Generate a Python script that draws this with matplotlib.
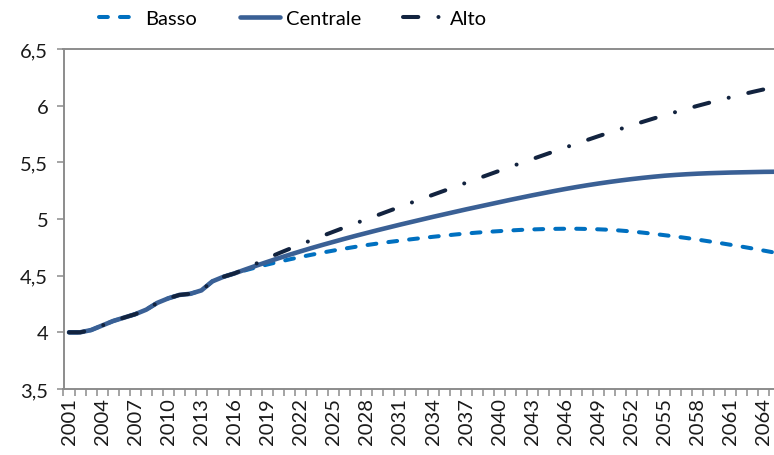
import matplotlib
matplotlib.use("Agg")
import matplotlib.pyplot as plt
from matplotlib.ticker import FixedLocator, FuncFormatter

plt.rcParams['font.family'] = ['Lato', 'DejaVu Sans']

years = list(range(2001, 2066))

history = [4.00, 4.00, 4.02, 4.06, 4.10, 4.13, 4.16, 4.20, 4.26, 4.30,
           4.33, 4.34, 4.37, 4.45, 4.49, 4.52]

basso_proj = [4.548, 4.574, 4.599, 4.622, 4.644, 4.665, 4.685, 4.704, 4.722, 4.739,
              4.755, 4.770, 4.784, 4.797, 4.809, 4.821, 4.832, 4.843, 4.853, 4.863,
              4.872, 4.880, 4.887, 4.893, 4.899, 4.904, 4.908, 4.911, 4.913, 4.914,
              4.914, 4.912, 4.909, 4.905, 4.898, 4.890, 4.880, 4.869, 4.857, 4.845,
              4.832, 4.818, 4.803, 4.788, 4.772, 4.756, 4.739, 4.721, 4.703]

centrale_proj = [4.555, 4.589, 4.622, 4.654, 4.685, 4.715, 4.744, 4.772, 4.799, 4.826,
                 4.852, 4.877, 4.902, 4.926, 4.950, 4.973, 4.996, 5.019, 5.041, 5.063,
                 5.085, 5.106, 5.127, 5.148, 5.169, 5.189, 5.209, 5.228, 5.247, 5.265,
                 5.282, 5.298, 5.313, 5.327, 5.340, 5.352, 5.363, 5.373, 5.382, 5.389,
                 5.395, 5.400, 5.404, 5.407, 5.410, 5.412, 5.414, 5.416, 5.417]

alto_proj = [4.560, 4.608, 4.655, 4.697, 4.737, 4.776, 4.814, 4.852, 4.889, 4.926,
             4.963, 4.999, 5.035, 5.071, 5.107, 5.143, 5.178, 5.214, 5.249, 5.285,
             5.320, 5.355, 5.390, 5.425, 5.460, 5.495, 5.529, 5.563, 5.597, 5.631,
             5.665, 5.698, 5.731, 5.763, 5.795, 5.826, 5.857, 5.887, 5.916, 5.944,
             5.972, 5.999, 6.025, 6.050, 6.075, 6.099, 6.122, 6.144, 6.165]

basso = history + basso_proj
centrale = history + centrale_proj
alto = history + alto_proj

labels = ["Basso", "Centrale", "Alto"]
colors = ["#0070C0", "#3A6095", "#12233F"]

fig = plt.figure(figsize=(7.74, 4.56), dpi=100)
ax = fig.add_axes([63.5 / 774, 1 - 390 / 456, 717 / 774, 340 / 456])

lw = 2.9
l1, = ax.plot(years, basso, color=colors[0], lw=lw, dashes=(2.2, 3.0),
              dash_capstyle='round', label=labels[0], zorder=3)
l2, = ax.plot(years, centrale, color=colors[1], lw=3.3, solid_capstyle='round',
              solid_joinstyle='round', label=labels[1], zorder=4)
l3, = ax.plot(years, alto, color=colors[2], lw=lw, dashes=(3.8, 5.0, 0.01, 5.0),
              dash_capstyle='round', label=labels[2], zorder=5)

ax.set_xlim(2000.5, 2065.5)
ax.set_ylim(3.5, 6.5)

ax.xaxis.set_major_locator(FixedLocator(list(range(2001, 2066, 3))))
ax.xaxis.set_minor_locator(FixedLocator([y + 0.5 for y in range(2000, 2066)]))
ax.xaxis.set_major_formatter(FuncFormatter(lambda v, p: f"{int(round(v))}"))
ax.tick_params(axis='x', which='major', length=0, labelrotation=90, labelsize=14.5,
               pad=6, labelcolor='#1a1a1a')
ax.tick_params(axis='x', which='minor', length=5, width=1.1, color='#8c8c8c',
               direction='out')

ax.set_yticks([3.5, 4, 4.5, 5, 5.5, 6, 6.5])
ax.yaxis.set_major_formatter(FuncFormatter(
    lambda v, p: (f"{v:g}").replace('.', ',')))
ax.tick_params(axis='y', length=5, width=1.1, color='#8c8c8c', labelsize=14.5,
               pad=6, labelcolor='#1a1a1a')

for side in ['left', 'bottom', 'top']:
    ax.spines[side].set_color('#8c8c8c')
    ax.spines[side].set_linewidth(1.4)
ax.spines['right'].set_visible(False)

leg = fig.legend(handles=[l1, l2, l3], labels=labels, loc='center',
                 bbox_to_anchor=(293 / 774, 1 - 19 / 456), ncol=3, frameon=False,
                 fontsize=14.5, handlelength=2.0, handletextpad=0.3,
                 columnspacing=2.1)

fig.savefig("out.png", dpi=100)
